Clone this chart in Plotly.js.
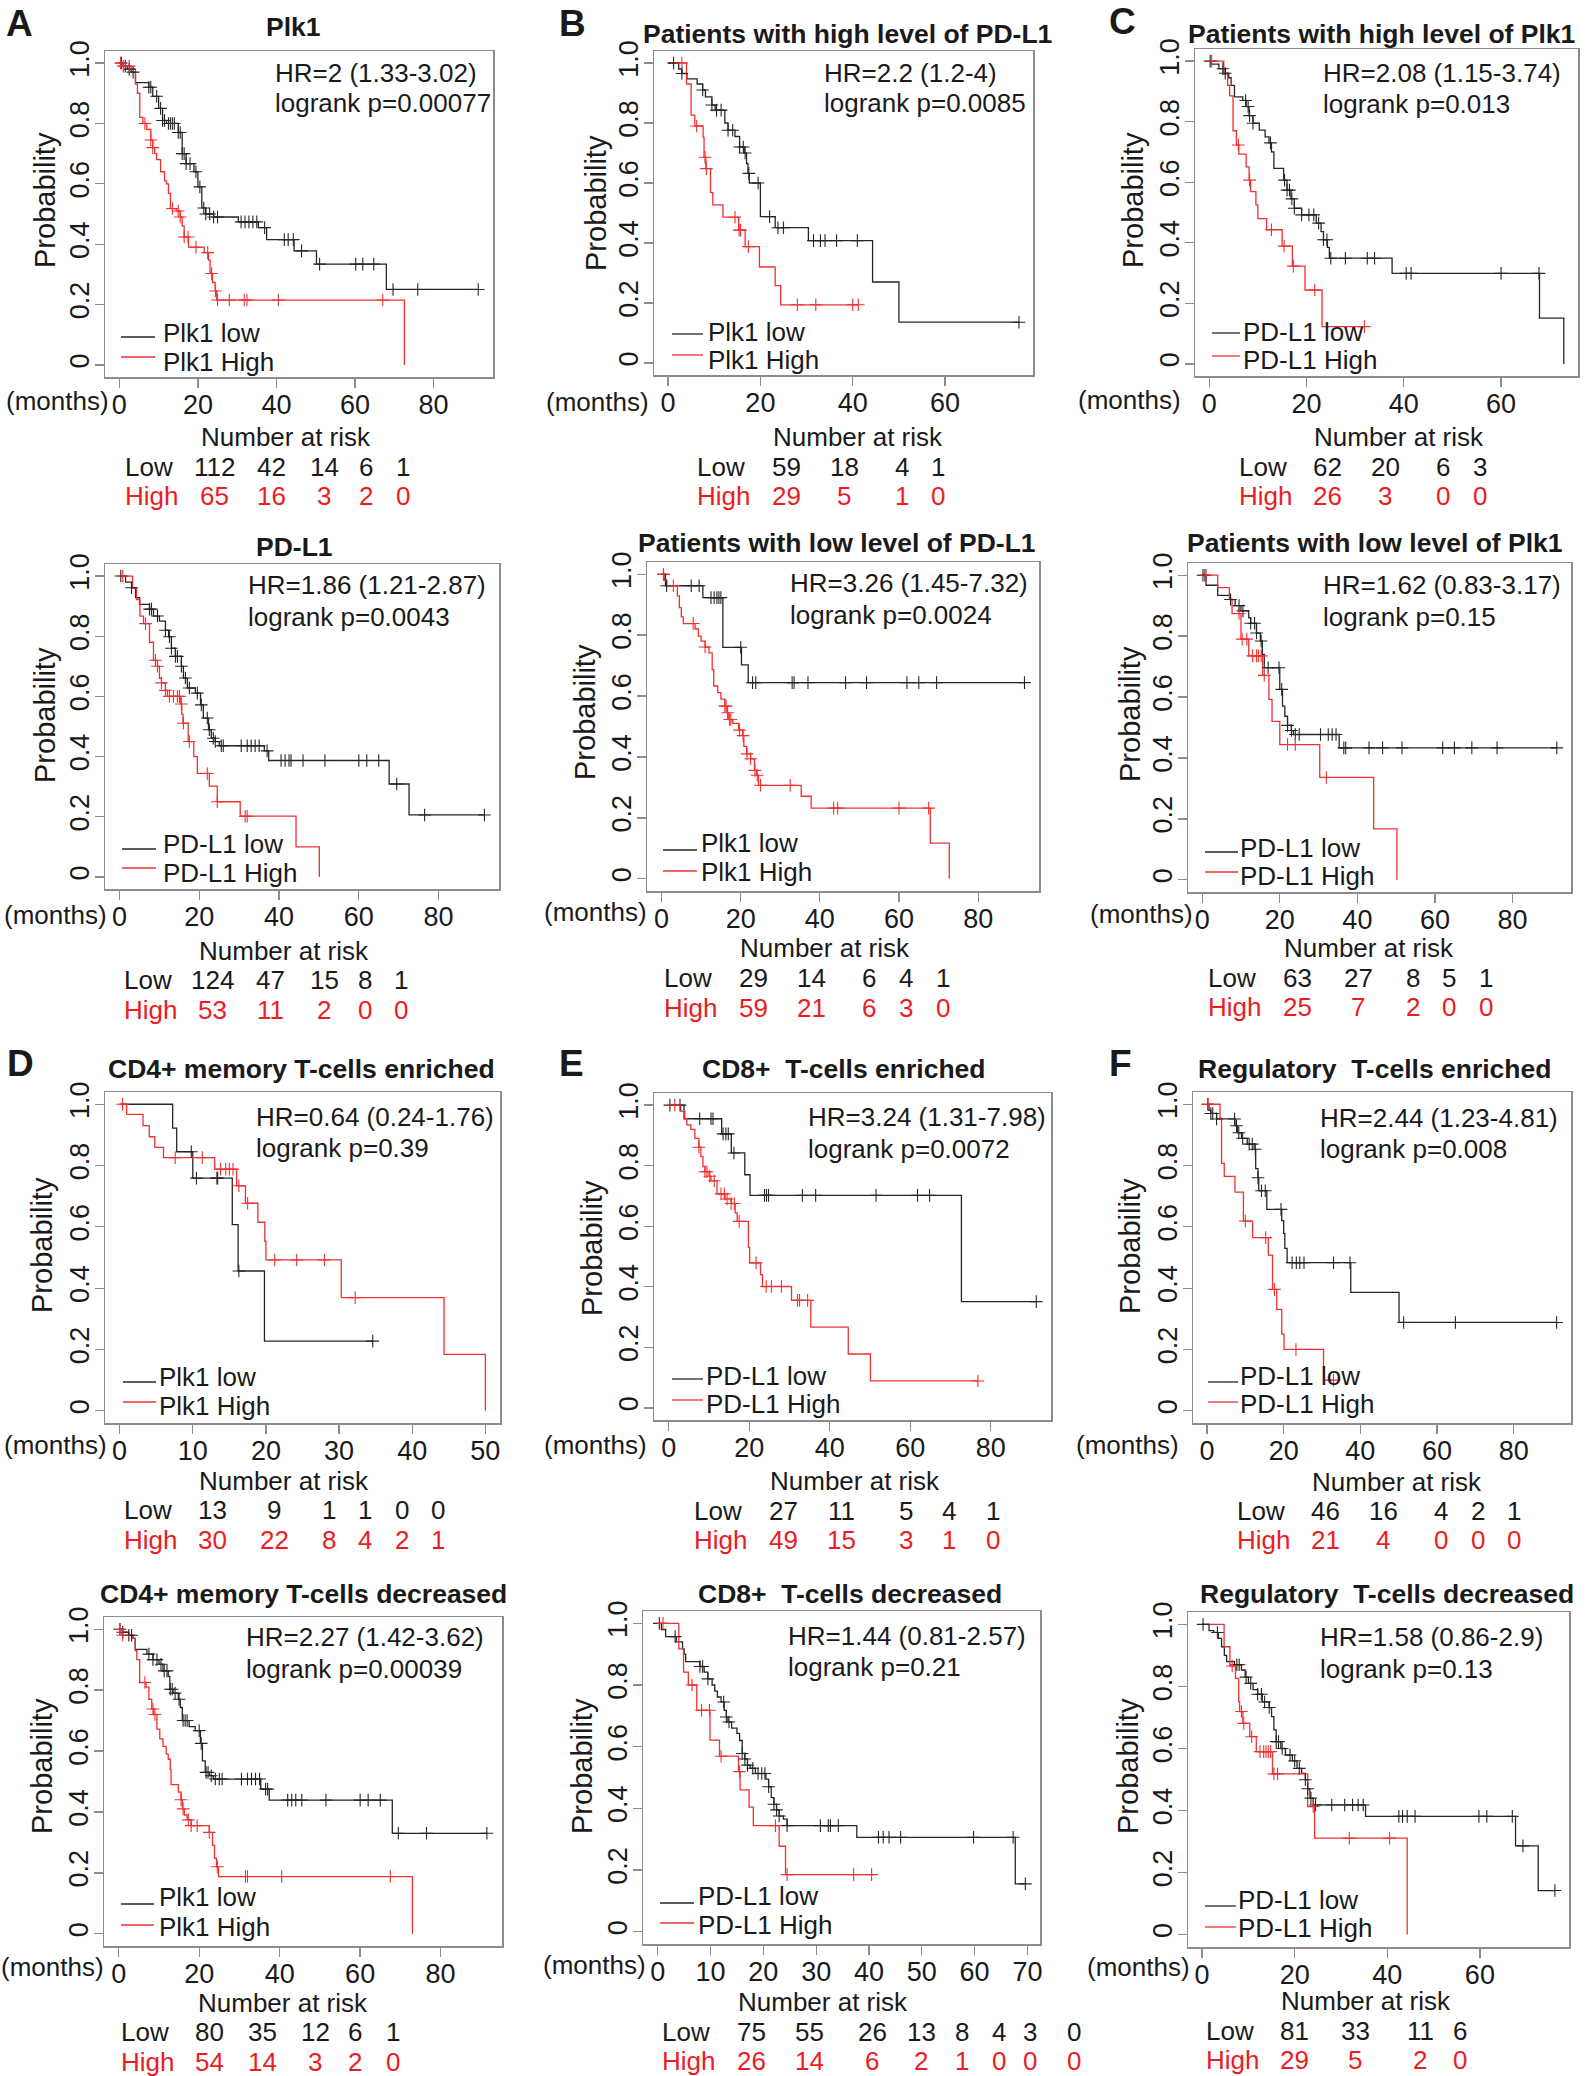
<!DOCTYPE html>
<html><head><meta charset="utf-8">
<script src="https://cdn.plot.ly/plotly-3.0.1.min.js"></script>
<style>html,body{margin:0;padding:0;background:#fff}#chart{width:1592px;height:2076px}</style>
</head><body><div id="chart"></div>
<script>
// ---------------- DATA ----------------
// Panel A (top): Plk1
const A1_lowT = [0, 1, 2, 3, 4.1, 7.5, 8.5, 10, 11, 12, 15, 16, 17, 19, 20, 21, 22, 24, 30.3, 35.4, 37.5, 44.5, 50.2, 68, 91.5];
const A1_lowS = [1, 0.99, 0.98, 0.97, 0.935, 0.92, 0.89, 0.85, 0.81, 0.80, 0.77, 0.70, 0.667, 0.64, 0.59, 0.52, 0.50, 0.49, 0.474, 0.455, 0.415, 0.378, 0.334, 0.25, 0.25];
const A1_lowC = [0.5, 1.5, 2.5, 3.5, 7.5, 8, 9.5, 10.5, 11, 11.5, 12.5, 13, 13.5, 14, 15, 15.5, 16, 16.5, 17, 18, 19.5, 20.5, 21.5, 22, 23, 24, 25, 31, 32, 33, 34, 35, 37, 42, 43, 44.3, 46.4, 51, 60.2, 62, 64.8, 69.7, 76, 91.4];
const A1_highT = [0, 1, 3, 4.1, 4.6, 5.2, 6, 7, 8, 8.5, 9, 9.5, 10.5, 11.5, 12, 12.5, 13, 14.5, 15.5, 16, 16.5, 17.6, 21.6, 22.7, 23.1, 23.7, 24.4, 24.8, 72.6];
const A1_highS = [1, 0.99, 0.98, 0.93, 0.90, 0.82, 0.80, 0.78, 0.745, 0.72, 0.70, 0.68, 0.64, 0.61, 0.60, 0.568, 0.518, 0.51, 0.49, 0.46, 0.424, 0.39, 0.372, 0.347, 0.303, 0.273, 0.245, 0.215, 0];
const A1_highC = [0.3, 1, 2.5, 6.5, 8, 8.5, 13.5, 15, 15.5, 16.5, 17.5, 19.5, 22.5, 23.5, 24.5, 25, 28, 31.8, 32.5, 40.5, 67.1];
const A1_riskLow = [112, 42, 14, 6, 1];
const A1_riskHigh = [65, 16, 3, 2, 0];

// Panel B (top): Patients with high level of PD-L1
const B1_lowT = [0, 2.3, 3, 4.1, 6.3, 7.5, 8.1, 9.5, 10.2, 12.3, 13, 14.5, 15.5, 16.5, 17, 17.3, 17.6, 20, 23.2, 30.4, 44.3, 50, 76];
const B1_lowS = [1, 0.98, 0.965, 0.947, 0.93, 0.91, 0.887, 0.86, 0.843, 0.80, 0.776, 0.755, 0.72, 0.70, 0.665, 0.632, 0.60, 0.488, 0.451, 0.408, 0.27, 0.136, 0.136];
const B1_lowC = [1.2, 3, 7.5, 9.5, 10.5, 11.5, 13, 14, 15.5, 16.3, 16.7, 17.5, 19.5, 22, 23.8, 25, 31.5, 33, 34, 36.5, 41, 76];
const B1_highT = [0, 4, 5, 5.8, 7.6, 7.8, 8.2, 9.2, 9.7, 11.9, 15.3, 16.7, 19.8, 23.2, 24.4, 41.2];
const B1_highS = [1, 0.93, 0.826, 0.79, 0.752, 0.686, 0.648, 0.568, 0.527, 0.486, 0.443, 0.388, 0.32, 0.258, 0.194, 0.194];
const B1_highC = [3, 6.2, 8, 8.3, 14.5, 15.4, 15.7, 17.4, 28, 32, 40, 41.2];
const B1_riskLow = [59, 18, 4, 1];
const B1_riskHigh = [29, 5, 1, 0];

// Panel C (top): Patients with high level of Plk1
const C1_lowT = [0, 0.4, 2, 3.3, 4, 4.5, 5.2, 6.9, 7.6, 8.2, 9, 10.3, 11.5, 12.3, 12.8, 13.3, 15.3, 16, 16.8, 17.5, 19, 22, 23, 23.5, 24.3, 24.7, 37.6, 67.9, 72.9];
const C1_lowS = [1, 0.99, 0.975, 0.96, 0.945, 0.92, 0.882, 0.87, 0.85, 0.82, 0.795, 0.772, 0.75, 0.73, 0.70, 0.646, 0.607, 0.574, 0.545, 0.514, 0.492, 0.465, 0.437, 0.41, 0.385, 0.349, 0.299, 0.151, 0];
const C1_lowC = [0.2, 2.8, 3.3, 7.5, 8, 8.3, 9, 12.6, 15.5, 16, 16.5, 17, 17.5, 19, 20.5, 21.5, 22.5, 23.5, 24.2, 25, 28, 32.5, 34, 40.5, 41.5, 60, 67.8];
const C1_highT = [0, 3, 3.8, 4.2, 4.9, 5.6, 6.1, 7.6, 8.2, 8.5, 9.6, 10, 11.8, 15, 17.1, 19.7, 23.2, 31.9];
const C1_highS = [1, 0.957, 0.92, 0.885, 0.77, 0.723, 0.693, 0.651, 0.607, 0.569, 0.525, 0.48, 0.443, 0.389, 0.323, 0.244, 0.123, 0.123];
const C1_highC = [0.5, 6, 8.3, 12.8, 15.4, 17.3, 21.7, 31.9];
const C1_riskLow = [62, 20, 6, 3];
const C1_riskHigh = [26, 3, 0, 0];

// Panel A (second row): PD-L1
const A2_lowT = [0, 1.5, 3, 4, 5, 7.5, 8.5, 10, 11.5, 12.3, 13, 14, 15.5, 16, 17, 19, 20.3, 21, 22.3, 23, 24, 25, 36.3, 37.4, 67.6, 72.6, 91.5];
const A2_lowS = [1, 0.98, 0.961, 0.928, 0.906, 0.89, 0.867, 0.85, 0.82, 0.798, 0.76, 0.733, 0.70, 0.661, 0.628, 0.611, 0.572, 0.528, 0.489, 0.461, 0.45, 0.436, 0.419, 0.387, 0.309, 0.206, 0.206];
const A2_lowC = [0.3, 3, 7.5, 8, 9.5, 11.5, 12.5, 13, 14, 14.5, 15.5, 16.5, 17.5, 19.5, 20.5, 22, 22.5, 23.5, 24, 25.5, 26, 30.5, 32, 33, 34, 35, 37, 40.5, 41.5, 42.5, 43, 46, 51.5, 60, 62, 65, 69.5, 76.5, 91.5];
const A2_highT = [0, 3.25, 4.25, 5.1, 6, 7.5, 8.5, 9.5, 10, 10.5, 11.5, 12, 15.3, 15.6, 15.9, 17.2, 18.6, 19.5, 22.5, 24.5, 30.25, 44.25, 50.1];
const A2_highS = [1, 0.96, 0.922, 0.867, 0.842, 0.78, 0.72, 0.70, 0.66, 0.645, 0.62, 0.60, 0.575, 0.54, 0.511, 0.45, 0.40, 0.344, 0.302, 0.25, 0.202, 0.10, 0];
const A2_highC = [0.8, 6.5, 9, 9.5, 10.5, 11.5, 12.5, 13.5, 14.5, 15, 15.5, 16, 17.5, 22, 24.5, 31.5, 32];
const A2_riskLow = [124, 47, 15, 8, 1];
const A2_riskHigh = [53, 11, 2, 0, 0];

// Panel B (second row): Patients with low level of PD-L1
const B2_lowT = [0, 1, 10.45, 15.5, 20.2, 21.9, 91.7];
const B2_lowS = [1, 0.962, 0.923, 0.76, 0.702, 0.644, 0.644];
const B2_lowC = [0.5, 1.3, 7.5, 9.5, 12.5, 13.3, 14, 14.5, 15, 20, 23, 23.8, 33, 33.5, 37, 46.5, 51.8, 62, 65, 69.5, 91.7];
const B2_highT = [0, 0.7, 1.3, 4, 4.5, 5, 5.5, 8.5, 9.3, 10, 11, 12, 12.8, 13.2, 14.2, 15, 16, 16.5, 17, 18, 19.5, 20.5, 20.8, 21.5, 22.5, 23.5, 24, 24.5, 35.3, 37.8, 67.9, 72.7];
const B2_highS = [1, 0.98, 0.962, 0.929, 0.89, 0.86, 0.838, 0.82, 0.797, 0.78, 0.761, 0.742, 0.687, 0.633, 0.611, 0.59, 0.567, 0.545, 0.523, 0.51, 0.488, 0.47, 0.435, 0.41, 0.394, 0.356, 0.34, 0.307, 0.271, 0.232, 0.117, 0];
const B2_highC = [0.5, 3, 8, 11, 16, 16.3, 16.7, 17.2, 17.5, 19.7, 20.6, 21.6, 22.5, 23.6, 24.2, 25, 32.5, 43.5, 44.5, 60, 67.5];
const B2_riskLow = [29, 14, 6, 4, 1];
const B2_riskHigh = [59, 21, 6, 3, 0];

// Panel C (second row): Patients with low level of Plk1
const C2_lowT = [0, 1, 4, 7.3, 8.5, 10, 12, 12.5, 14, 15, 15.5, 16, 20, 20.7, 21.3, 22, 23, 23.5, 35.3, 91.4];
const C2_lowS = [1, 0.967, 0.934, 0.92, 0.90, 0.883, 0.86, 0.842, 0.81, 0.784, 0.74, 0.696, 0.625, 0.57, 0.537, 0.507, 0.49, 0.477, 0.433, 0.433];
const C2_lowC = [0.2, 0.7, 7.3, 9.5, 10.5, 12.5, 13.5, 14, 15.2, 17, 19.8, 20.5, 22, 23, 24, 25, 30.5, 32.5, 33.5, 34.5, 36.5, 37, 43, 46.5, 51.5, 62, 65, 69.5, 76, 91.4];
const C2_highT = [0, 4, 7, 7.7, 10, 12, 15.6, 17.2, 18, 20, 30.3, 44.2, 50.2];
const C2_highS = [1, 0.959, 0.921, 0.874, 0.79, 0.735, 0.671, 0.592, 0.52, 0.444, 0.336, 0.167, 0];
const C2_highC = [1, 9.5, 10.3, 11.5, 13, 14, 14.5, 15.2, 16, 22, 24, 32];
const C2_riskLow = [63, 27, 8, 5, 1];
const C2_riskHigh = [25, 7, 2, 0, 0];

// Panel D (top): CD4+ memory T-cells enriched
const D1_lowT = [0, 7.25, 7.8, 10, 15.4, 16.2, 19.8, 34.7];
const D1_lowS = [1, 0.922, 0.845, 0.759, 0.607, 0.456, 0.227, 0.227];
const D1_lowC = [9.8, 10.5, 13.3, 13.4, 16.3, 34.6];
const D1_highT = [0, 0.96, 3.2, 4.05, 4.8, 6, 13, 16, 17.2, 18.9, 19.85, 20, 30.3, 44.35, 50];
const D1_highS = [1, 0.967, 0.93, 0.894, 0.859, 0.826, 0.788, 0.734, 0.677, 0.615, 0.553, 0.492, 0.369, 0.184, 0];
const D1_highC = [0.4, 7.6, 11.3, 13.8, 14.5, 15, 15.5, 16.3, 17.5, 21.2, 24.2, 28, 32.2];
const D1_riskLow = [13, 9, 1, 1, 0, 0];
const D1_riskHigh = [30, 22, 8, 4, 2, 1];

// Panel E (top): CD8+ T-cells enriched
const E1_lowT = [0, 3.8, 13.15, 15.55, 18.9, 20.2, 72.7, 91.3];
const E1_lowS = [1, 0.955, 0.905, 0.842, 0.77, 0.702, 0.351, 0.351];
const E1_lowC = [0.3, 2.8, 7.7, 10.5, 11, 13.5, 14.2, 14.8, 16.2, 23.8, 24.3, 24.8, 33.2, 36.5, 51.5, 61.8, 64.8, 91.3];
const E1_highT = [0, 3, 4, 4.5, 5.5, 6.5, 7.5, 8, 8.5, 9, 10, 10.5, 12, 14, 15.5, 16.5, 17, 19.8, 20.1, 22.8, 23.3, 30.5, 35.3, 44.6, 50.1, 76.8];
const E1_highS = [1, 0.98, 0.955, 0.935, 0.92, 0.89, 0.861, 0.83, 0.797, 0.78, 0.765, 0.75, 0.707, 0.69, 0.675, 0.644, 0.616, 0.53, 0.479, 0.44, 0.401, 0.355, 0.267, 0.178, 0.089, 0.089];
const E1_highC = [1.5, 7.5, 9, 9.5, 10.2, 11.3, 13, 13.8, 14.5, 15.5, 16.3, 17.5, 21.7, 24.2, 25.5, 28, 32, 32.5, 34.5, 76.8];
const E1_riskLow = [27, 11, 5, 4, 1];
const E1_riskHigh = [49, 15, 3, 1, 0];

// Panel F (top): Regulatory T-cells enriched
const F1_lowT = [0, 0.5, 1, 2.5, 7.3, 8, 9, 10.5, 12.3, 12.7, 13.3, 13.5, 15.6, 19.5, 20, 20.3, 20.9, 37.5, 50.1, 91.3];
const F1_lowS = [1, 0.98, 0.97, 0.952, 0.93, 0.907, 0.889, 0.87, 0.853, 0.79, 0.76, 0.718, 0.657, 0.62, 0.579, 0.53, 0.483, 0.386, 0.288, 0.288];
const F1_lowC = [0.2, 1, 1.5, 2.5, 7.2, 7.7, 8.3, 9.3, 11, 11.8, 12.6, 13.3, 14.2, 15.2, 19.3, 22.2, 23.3, 24.2, 25.3, 33, 37.3, 51.3, 64.8, 91.2];
const F1_highT = [0, 3.4, 3.8, 4.5, 7.3, 9.5, 11.9, 16, 17.1, 18.2, 19.5, 20.1, 30.4, 33];
const F1_highS = [1, 0.955, 0.807, 0.765, 0.713, 0.619, 0.565, 0.508, 0.396, 0.331, 0.25, 0.20, 0.10, 0.10];
const F1_highC = [0.3, 10, 15.3, 17.6, 23.2, 33];
const F1_riskLow = [46, 16, 4, 2, 1];
const F1_riskHigh = [21, 4, 0, 0, 0];

// Panel D (bottom): CD4+ memory T-cells decreased
const D2_lowT = [0, 1, 2.5, 3.5, 4.1, 7, 8.5, 10, 11, 12.3, 12.7, 13.5, 14.8, 15.3, 15.8, 17.5, 19, 20.3, 20.8, 21.5, 22.5, 23.5, 35.3, 37.4, 68, 91.6];
const D2_lowS = [1, 0.99, 0.98, 0.97, 0.934, 0.918, 0.90, 0.885, 0.863, 0.845, 0.803, 0.79, 0.77, 0.743, 0.70, 0.68, 0.667, 0.625, 0.568, 0.53, 0.519, 0.508, 0.475, 0.439, 0.33, 0.33];
const D2_lowC = [0.3, 1, 2.5, 3.2, 7.5, 8.5, 9.5, 10.5, 11.3, 12, 12.8, 13.3, 14, 15, 16, 16.5, 17, 20, 20.5, 21.7, 22.2, 23, 24, 25, 25.7, 30.5, 32, 33, 34, 35, 36.5, 37, 42, 43, 44, 45.5, 51.5, 60, 62, 65, 69.5, 76.5, 91.5];
const D2_highT = [0, 0.8, 3.5, 4.1, 4.5, 5.2, 6.8, 7.5, 8.2, 8.7, 9.5, 10.2, 11, 11.8, 12.3, 12.8, 13, 14.8, 15.5, 15.8, 16.3, 17, 18, 22.5, 23.3, 23.8, 24.3, 24.8, 73];
const D2_highS = [1, 0.98, 0.97, 0.93, 0.90, 0.825, 0.81, 0.77, 0.738, 0.72, 0.672, 0.64, 0.615, 0.59, 0.573, 0.54, 0.49, 0.465, 0.44, 0.41, 0.39, 0.374, 0.355, 0.333, 0.29, 0.248, 0.22, 0.188, 0];
const D2_highC = [0.3, 1, 6.5, 8.5, 9, 15.5, 16, 17.3, 18, 19.5, 22.5, 24.5, 31.5, 32, 40.5, 67.5];
const D2_riskLow = [80, 35, 12, 6, 1];
const D2_riskHigh = [54, 14, 3, 2, 0];

// Panel E (bottom): CD8+ T-cells decreased
const E2_lowT = [0, 0.7, 1.5, 3.5, 4.7, 5, 5.3, 8, 8.8, 9.5, 10.3, 10.8, 11.3, 12, 12.6, 13, 13.3, 14, 15, 15.5, 16, 16.5, 17, 17.5, 18.5, 20.5, 21, 21.5, 22, 22.5, 23, 23.8, 24.5, 37.7, 67.7, 69.6];
const E2_lowS = [1, 0.98, 0.957, 0.94, 0.917, 0.90, 0.876, 0.86, 0.842, 0.82, 0.80, 0.78, 0.761, 0.745, 0.718, 0.696, 0.68, 0.66, 0.643, 0.62, 0.578, 0.56, 0.54, 0.53, 0.513, 0.495, 0.47, 0.435, 0.413, 0.395, 0.375, 0.365, 0.344, 0.306, 0.155, 0.155];
const E2_lowC = [0.3, 3.3, 8, 8.5, 9.5, 12.5, 13, 13.5, 16, 16.5, 17, 18, 19, 19.7, 20.3, 21, 22, 22.5, 23, 24.5, 30.8, 32.3, 32.7, 34.2, 41.8, 42.7, 43.8, 46, 59.8, 67.3, 69.6];
const E2_highT = [0, 4, 4.9, 5.8, 7.4, 9.9, 11.7, 15.3, 15.6, 17.3, 18.1, 23, 24.2, 41];
const E2_highS = [1, 0.917, 0.842, 0.80, 0.718, 0.621, 0.569, 0.519, 0.46, 0.404, 0.344, 0.277, 0.185, 0.185];
const E2_highC = [1, 6.5, 8.3, 9.8, 12, 15.5, 22.3, 24.5, 37.1, 40.5];
const E2_riskLow = [75, 55, 26, 13, 8, 4, 3, 0];
const E2_riskHigh = [26, 14, 6, 2, 1, 0, 0, 0];

// Panel F (bottom): Regulatory T-cells decreased
const F2_lowT = [0, 1.5, 2.5, 3.5, 4.2, 4.8, 5.3, 7, 8.5, 9.3, 10, 11, 12, 13, 14.5, 15, 15.5, 16, 17, 18, 19.5, 20.5, 21.5, 22.3, 22.8, 23.3, 24, 35.3, 67.7, 72.6, 76.2];
const F2_lowS = [1, 0.98, 0.974, 0.955, 0.928, 0.90, 0.88, 0.87, 0.853, 0.83, 0.81, 0.79, 0.775, 0.75, 0.732, 0.703, 0.66, 0.622, 0.60, 0.579, 0.56, 0.536, 0.52, 0.499, 0.47, 0.44, 0.418, 0.381, 0.286, 0.142, 0.142];
const F2_lowC = [0.2, 3.3, 7.5, 8, 9.5, 10.5, 12, 12.8, 13.5, 14.5, 16, 16.5, 17.3, 19, 20, 21, 22.3, 22.8, 23.5, 24.5, 28, 30.8, 32.5, 33.7, 34.8, 42.5, 43.3, 44.3, 46, 59.8, 61.5, 67, 69.3, 76.2];
const F2_highT = [0, 4.75, 6, 7.2, 7.9, 8.1, 8.8, 10.3, 11.7, 15.2, 22.8, 24.3, 44.3];
const F2_highS = [1, 0.928, 0.866, 0.826, 0.751, 0.719, 0.681, 0.638, 0.59, 0.518, 0.413, 0.311, 0];
const F2_highC = [6.5, 8.5, 9, 10.7, 12.5, 13.3, 13.8, 14.3, 14.8, 15.5, 16.3, 24, 31.8, 40.5];
const F2_riskLow = [81, 33, 11, 6];
const F2_riskHigh = [29, 5, 2, 0];

// Text labels
const titles = ['Plk1', 'Patients with high level of PD-L1', 'Patients with high level of Plk1',
  'PD-L1', 'Patients with low level of PD-L1', 'Patients with low level of Plk1',
  'CD4+ memory T-cells enriched', 'CD8+&nbsp;&nbsp;T-cells enriched', 'Regulatory&nbsp;&nbsp;T-cells enriched',
  'CD4+ memory T-cells decreased', 'CD8+&nbsp;&nbsp;T-cells decreased', 'Regulatory&nbsp;&nbsp;T-cells decreased'];
const hrText = ['HR=2 (1.33-3.02)', 'HR=2.2 (1.2-4)', 'HR=2.08 (1.15-3.74)',
  'HR=1.86 (1.21-2.87)', 'HR=3.26 (1.45-7.32)', 'HR=1.62 (0.83-3.17)',
  'HR=0.64 (0.24-1.76)', 'HR=3.24 (1.31-7.98)', 'HR=2.44 (1.23-4.81)',
  'HR=2.27 (1.42-3.62)', 'HR=1.44 (0.81-2.57)', 'HR=1.58 (0.86-2.9)'];
const pText = ['logrank p=0.00077', 'logrank p=0.0085', 'logrank p=0.013',
  'logrank p=0.0043', 'logrank p=0.0024', 'logrank p=0.15',
  'logrank p=0.39', 'logrank p=0.0072', 'logrank p=0.008',
  'logrank p=0.00039', 'logrank p=0.21', 'logrank p=0.13'];
const geneLabel = ['Plk1', 'Plk1', 'PD-L1', 'PD-L1', 'Plk1', 'PD-L1', 'Plk1', 'PD-L1', 'PD-L1', 'Plk1', 'PD-L1', 'PD-L1'];
const panelLetters = ['A', 'B', 'C', '', '', '', 'D', 'E', 'F', '', '', ''];
const xTicks = [[0,20,40,60,80],[0,20,40,60],[0,20,40,60],[0,20,40,60,80],[0,20,40,60,80],[0,20,40,60,80],
  [0,10,20,30,40,50],[0,20,40,60,80],[0,20,40,60,80],[0,20,40,60,80],[0,10,20,30,40,50,60,70],[0,20,40,60]];
const yTicks = [0, 0.2, 0.4, 0.6, 0.8, 1];
const yTickText = ['0', '0.2', '0.4', '0.6', '0.8', '1.0'];

// ---------------- LAYOUT (pixel positions) ----------------
const W = 1592, H = 2076;
const FONT = 'Liberation Sans, Arial, Helvetica, sans-serif';
const TXT = '#1a1a1a', LOWC = '#262626', HIGHC = '#f23030', REDTXT = '#ec1c24', BOXC = '#8c8c8c';

const geo = [
  {box:[105,493,51,377], letter:[5,23], title:[293,27], hr:[274,73,103], seg:[121,155], segY:[337,357], legX:162, legY:[333,362], months:[5,401], prob:[45,200], nar:[286,437], lab:124, rowY:[467,496], cols:[214,271,324,366,403]},
  {box:[654,1033,51,375], letter:[558,23], title:[847,34], hr:[823,73,103], seg:[672,703], segY:[334,355], legX:707, legY:[332,360], months:[545,402], prob:[596,203], nar:[858,437], lab:696, rowY:[467,496], cols:[786,844,902,938]},
  {box:[1195,1578,49,376], letter:[1108,22], title:[1381,34], hr:[1322,73,104], seg:[1212,1240], segY:[333,356], legX:1242, legY:[332,360], months:[1077,400], prob:[1133,200], nar:[1399,437], lab:1238, rowY:[467,496], cols:[1327,1385,1443,1480]},
  {box:[105,499,564,889], letter:null, title:[294,547], hr:[247,585,617], seg:[122,156], segY:[849,868], legX:162, legY:[844,873], months:[3,915], prob:[45,715], nar:[284,951], lab:123, rowY:[980,1010], cols:[212,270,324,365,401]},
  {box:[647,1039,562,891], letter:null, title:[837,543], hr:[789,583,615], seg:[663,697], segY:[850,871], legX:700, legY:[843,872], months:[543,912], prob:[585,712], nar:[825,948], lab:663, rowY:[978,1008], cols:[753,811,869,906,943]},
  {box:[1188,1571,563,892], letter:null, title:[1375,543], hr:[1322,585,617], seg:[1205,1238], segY:[852,872], legX:1239, legY:[848,876], months:[1089,914], prob:[1130,714], nar:[1369,948], lab:1207, rowY:[978,1007], cols:[1297,1358,1413,1449,1486]},
  {box:[105,500,1092,1423], letter:[6,1063], title:[301,1069], hr:[255,1117,1148], seg:[123,156], segY:[1382,1402], legX:158, legY:[1377,1406], months:[3,1445], prob:[42,1245], nar:[284,1481], lab:123, rowY:[1510,1540], cols:[212,274,329,365,402,438]},
  {box:[654,1051,1093,1420], letter:[558,1063], title:[844,1069], hr:[807,1117,1149], seg:[672,703], segY:[1379,1400], legX:705, legY:[1376,1404], months:[543,1445], prob:[592,1248], nar:[855,1481], lab:693, rowY:[1511,1540], cols:[783,841,906,949,993]},
  {box:[1193,1571,1092,1423], letter:[1108,1063], title:[1374,1069], hr:[1319,1118,1149], seg:[1208,1238], segY:[1382,1402], legX:1239, legY:[1376,1404], months:[1075,1445], prob:[1130,1246], nar:[1397,1482], lab:1236, rowY:[1511,1540], cols:[1325,1383,1441,1478,1514]},
  {box:[104,502,1617,1946], letter:null, title:[303,1594], hr:[245,1637,1669], seg:[121,154], segY:[1904,1925], legX:158, legY:[1897,1927], months:[0,1967], prob:[42,1766], nar:[283,2003], lab:120, rowY:[2032,2062], cols:[210,262,315,355,393]},
  {box:[643,1040,1611,1944], letter:null, title:[850,1594], hr:[787,1636,1667], seg:[660,694], segY:[1903,1923], legX:697, legY:[1896,1925], months:[542,1965], prob:[582,1766], nar:[823,2002], lab:661, rowY:[2032,2061], cols:[751,809,872,921,962,999,1030,1074]},
  {box:[1188,1569,1612,1947], letter:null, title:[1387,1594], hr:[1319,1637,1669], seg:[1205,1236], segY:[1906,1927], legX:1237, legY:[1900,1928], months:[1086,1967], prob:[1128,1766], nar:[1366,2001], lab:1205, rowY:[2031,2060], cols:[1294,1355,1420,1460]}
];

const curves = [
  [A1_lowT,A1_lowS,A1_lowC,A1_highT,A1_highS,A1_highC,A1_riskLow,A1_riskHigh],
  [B1_lowT,B1_lowS,B1_lowC,B1_highT,B1_highS,B1_highC,B1_riskLow,B1_riskHigh],
  [C1_lowT,C1_lowS,C1_lowC,C1_highT,C1_highS,C1_highC,C1_riskLow,C1_riskHigh],
  [A2_lowT,A2_lowS,A2_lowC,A2_highT,A2_highS,A2_highC,A2_riskLow,A2_riskHigh],
  [B2_lowT,B2_lowS,B2_lowC,B2_highT,B2_highS,B2_highC,B2_riskLow,B2_riskHigh],
  [C2_lowT,C2_lowS,C2_lowC,C2_highT,C2_highS,C2_highC,C2_riskLow,C2_riskHigh],
  [D1_lowT,D1_lowS,D1_lowC,D1_highT,D1_highS,D1_highC,D1_riskLow,D1_riskHigh],
  [E1_lowT,E1_lowS,E1_lowC,E1_highT,E1_highS,E1_highC,E1_riskLow,E1_riskHigh],
  [F1_lowT,F1_lowS,F1_lowC,F1_highT,F1_highS,F1_highC,F1_riskLow,F1_riskHigh],
  [D2_lowT,D2_lowS,D2_lowC,D2_highT,D2_highS,D2_highC,D2_riskLow,D2_riskHigh],
  [E2_lowT,E2_lowS,E2_lowC,E2_highT,E2_highS,E2_highC,E2_riskLow,E2_riskHigh],
  [F2_lowT,F2_lowS,F2_lowC,F2_highT,F2_highS,F2_highC,F2_riskLow,F2_riskHigh]
];

function survAt(T, S, t) { let v = S[0]; for (let i = 0; i < T.length; i++) { if (T[i] <= t) v = S[i]; } return v; }
const fx = x => x / W, fy = y => 1 - y / H;
function ann(text, x, y, o) {
  return Object.assign({text: text, x: fx(x), y: fy(y), xref: 'paper', yref: 'paper', showarrow: false,
    xanchor: 'center', yanchor: 'middle', borderpad: 0, font: {family: FONT, size: 26, color: TXT}}, o || {});
}

const traces = [], annotations = [], shapes = [];
const layout = {width: W, height: H, margin: {l: 0, r: 0, t: 0, b: 0}, paper_bgcolor: '#fff', plot_bgcolor: '#fff',
  showlegend: false, font: {family: FONT, color: TXT}, hovermode: false};

curves.forEach((c, i) => {
  const [lT, lS, lC, hT, hS, hC, rL, rH] = c;
  const g = geo[i];
  const k = i + 1;
  const xa = k === 1 ? 'x' : 'x' + k, ya = k === 1 ? 'y' : 'y' + k;
  const tmax = Math.max(lT[lT.length - 1], hT[hT.length - 1], ...lC, ...hC);
  const [L, R, T, B] = g.box;
  const axCommon = {showgrid: false, zeroline: false, showline: true, mirror: true, linecolor: BOXC, linewidth: 1.5,
    ticks: 'outside', ticklen: 9, tickwidth: 1.3, tickcolor: BOXC, tickfont: {family: FONT, size: 27, color: TXT}, fixedrange: true};
  layout['xaxis' + (k === 1 ? '' : k)] = Object.assign({}, axCommon, {domain: [fx(L), fx(R)], range: [-0.04 * tmax, 1.04 * tmax],
    anchor: ya, tickmode: 'array', tickvals: xTicks[i], ticktext: xTicks[i].map(String), ticklabelstandoff: -6});
  layout['yaxis' + (k === 1 ? '' : k)] = Object.assign({}, axCommon, {domain: [fy(B), fy(T)], range: [-0.04, 1.04],
    anchor: xa, tickmode: 'array', tickvals: yTicks, ticktext: yTickText, tickangle: -90, ticklabelstandoff: -5});

  traces.push({x: lT, y: lS, xaxis: xa, yaxis: ya, mode: 'lines', line: {shape: 'hv', color: LOWC, width: 1.3}});
  traces.push({x: hT, y: hS, xaxis: xa, yaxis: ya, mode: 'lines', line: {shape: 'hv', color: HIGHC, width: 1.3}});
  traces.push({x: lC, y: lC.map(t => survAt(lT, lS, t)), xaxis: xa, yaxis: ya, mode: 'markers',
    marker: {symbol: 'cross-thin', size: 9, line: {width: 1.1, color: LOWC}, color: LOWC}});
  traces.push({x: hC, y: hC.map(t => survAt(hT, hS, t)), xaxis: xa, yaxis: ya, mode: 'markers',
    marker: {symbol: 'cross-thin', size: 9, line: {width: 1.1, color: HIGHC}, color: HIGHC}});

  if (panelLetters[i]) annotations.push(ann('<b>' + panelLetters[i] + '</b>', g.letter[0], g.letter[1], {xanchor: 'left', font: {family: FONT, size: 37, color: TXT}}));
  annotations.push(ann('<b>' + titles[i] + '</b>', g.title[0], g.title[1], {font: {family: FONT, size: 26.5, color: TXT}}));
  annotations.push(ann(hrText[i], g.hr[0], g.hr[1], {xanchor: 'left'}));
  annotations.push(ann(pText[i], g.hr[0], g.hr[2], {xanchor: 'left'}));
  // legend
  shapes.push({type: 'line', xref: 'paper', yref: 'paper', x0: fx(g.seg[0]), x1: fx(g.seg[1]), y0: fy(g.segY[0]), y1: fy(g.segY[0]), line: {color: LOWC, width: 1.3}});
  shapes.push({type: 'line', xref: 'paper', yref: 'paper', x0: fx(g.seg[0]), x1: fx(g.seg[1]), y0: fy(g.segY[1]), y1: fy(g.segY[1]), line: {color: HIGHC, width: 1.3}});
  annotations.push(ann(geneLabel[i] + ' low', g.legX, g.legY[0], {xanchor: 'left'}));
  annotations.push(ann(geneLabel[i] + ' High', g.legX, g.legY[1], {xanchor: 'left'}));
  annotations.push(ann('(months)', g.months[0], g.months[1], {xanchor: 'left'}));
  annotations.push(ann('Probability', g.prob[0], g.prob[1], {textangle: -90, font: {family: FONT, size: 29, color: TXT}}));
  annotations.push(ann('Number at risk', g.nar[0], g.nar[1]));
  annotations.push(ann('Low', g.lab, g.rowY[0], {xanchor: 'left'}));
  annotations.push(ann('High', g.lab, g.rowY[1], {xanchor: 'left', font: {family: FONT, size: 26, color: REDTXT}}));
  rL.forEach((v, j) => annotations.push(ann(String(v), g.cols[j], g.rowY[0])));
  rH.forEach((v, j) => annotations.push(ann(String(v), g.cols[j], g.rowY[1], {font: {family: FONT, size: 26, color: REDTXT}})));
});

layout.annotations = annotations;
layout.shapes = shapes;
Plotly.newPlot('chart', traces, layout, {staticPlot: true, displayModeBar: false});
</script></body></html>
